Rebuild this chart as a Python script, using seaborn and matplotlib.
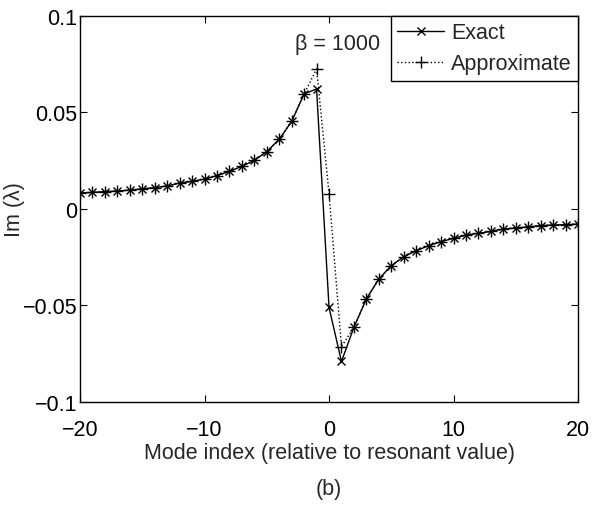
import numpy as np
import pandas as pd
import matplotlib
matplotlib.use('Agg')
import matplotlib.pyplot as plt
import seaborn as sns

#%%
# values

mode_index = list(range(-20, 21))

im_exact = [
    0.0083, 0.0086, 0.0090, 0.0093, 0.0098, 0.0104, 0.0111, 0.0119, 0.0135, 0.0143,
    0.0155, 0.0173, 0.0195, 0.0221, 0.0252, 0.0297, 0.0361, 0.0454, 0.0596, 0.0622,
    -0.0510,
    -0.0790, -0.0613, -0.0466, -0.0363, -0.0294, -0.0247, -0.0216, -0.0190, -0.0169,
    -0.0152, -0.0135, -0.0126, -0.0116, -0.0104, -0.0098, -0.0093, -0.0086, -0.0083,
    -0.0081, -0.0078,
]

im_approx = [
    0.0083, 0.0086, 0.0090, 0.0093, 0.0098, 0.0104, 0.0111, 0.0119, 0.0135, 0.0143,
    0.0155, 0.0173, 0.0195, 0.0221, 0.0252, 0.0297, 0.0361, 0.0454, 0.0596, 0.0725,
    0.0080,
    -0.0713, -0.0613, -0.0466, -0.0363, -0.0294, -0.0247, -0.0216, -0.0190, -0.0169,
    -0.0152, -0.0135, -0.0126, -0.0116, -0.0104, -0.0098, -0.0093, -0.0086, -0.0083,
    -0.0081, -0.0078,
]

#%%
sns.set_style('ticks')
plt.rcParams['font.family'] = ['Liberation Sans', 'DejaVu Sans']
fs = 15.5

fig = plt.figure(figsize=(5.98, 5.06), dpi=100)
ax = fig.add_axes([0.1338, 0.2036, 0.8328, 0.7628])

sns.lineplot(x=mode_index, y=im_exact, ax=ax, color='k', linewidth=1.0,
             marker='x', markersize=6, markeredgewidth=1.0,
             markeredgecolor='k', label='Exact')
sns.lineplot(x=mode_index, y=im_approx, ax=ax, color='k', linewidth=1.0,
             linestyle=':', marker='+', markersize=8, markeredgewidth=1.0,
             markeredgecolor='k', label='Approximate')

ax.set_xlim(-20, 20)
ax.set_ylim(-0.1, 0.1)
ax.set_xticks([-20, -10, 0, 10, 20])
ax.set_yticks([-0.1, -0.05, 0, 0.05, 0.1])
ax.set_xticklabels(['\u221220', '\u221210', '0', '10', '20'])
ax.set_yticklabels(['\u22120.1', '\u22120.05', '0', '0.05', '0.1'])
ax.tick_params(direction='in', top=True, right=True, length=5, width=0.8,
               labelsize=fs, colors='k')
ax.tick_params(axis='x', pad=12)
ax.tick_params(axis='y', pad=2)
for s in ax.spines.values():
    s.set_visible(True)
    s.set_color('k')
    s.set_linewidth(1.0)

ax.set_xlabel('Mode index (relative to resonant value)', fontsize=fs, labelpad=2)
ax.set_ylabel('Im (\u03bb)', fontsize=fs)
ax.yaxis.set_label_coords(-0.11, 0.5)

ax.text(0.7, 0.0855, '\u03b2 = 1000', fontsize=fs, ha='center', va='center')

leg = ax.legend(loc='upper right', fontsize=fs, frameon=True, fancybox=False,
                borderaxespad=0, handlelength=2.2, handletextpad=0.3,
                borderpad=0.3, labelspacing=0.45)
leg.get_frame().set_edgecolor('k')
leg.get_frame().set_linewidth(1.0)
leg.get_frame().set_alpha(1)

fig.text(0.5 * (0.1338 + 0.9666), 0.032, '(b)', fontsize=fs,
         ha='center', va='center')

fig.savefig('out.png', dpi=100)
